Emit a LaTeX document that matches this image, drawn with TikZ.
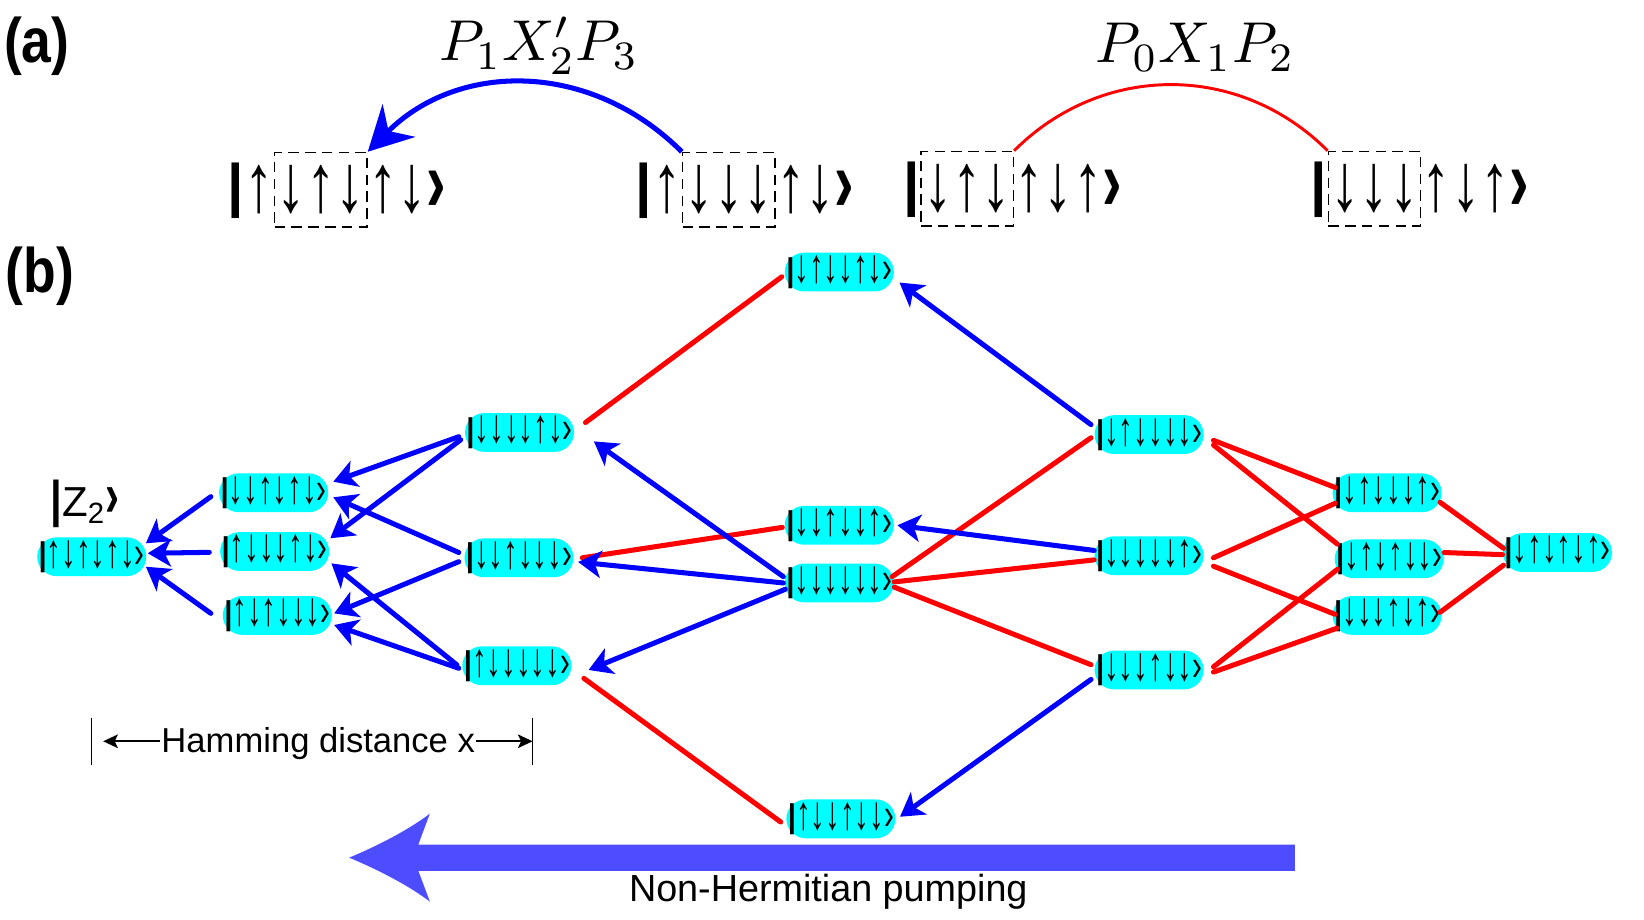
\documentclass[tikz,border=0pt]{standalone}
\usepackage{fontspec}
\setmainfont{Liberation Sans}
\usepackage{graphicx}
\usetikzlibrary{arrows.meta,calc}
\definecolor{pillc}{RGB}{0,255,255}
\definecolor{eblue}{RGB}{0,0,255}
\definecolor{ered}{RGB}{255,0,0}
\definecolor{pumpc}{RGB}{77,77,255}
\newcommand\kbar{\raisebox{0.1em}{\bfseries|}}
\newcommand\kend{\scalebox{1}[1.5]{›}}
\newcommand\kendb{\scalebox{1}[1.5]{\textbf{›}}}
\newcommand\ka[1]{\scalebox{1}[1.4]{#1}}
\newcommand\kn[1]{\scalebox{1}[1.62]{#1}}
\newcommand\kt[1]{\raisebox{0.05em}{\scalebox{1}[1.12]{\bfseries|}}\kn{#1}\kend}
\begin{document}
\begin{tikzpicture}[x=0.5pt,y=-0.5pt,
  state/.style={rectangle, rounded corners=9.25pt, fill=pillc, minimum width=52pt, minimum height=18.5pt,
    inner sep=0pt, font=\fontsize{14}{14}\selectfont},
  barrow/.style={draw=eblue, line width=2.4pt, line cap=round,
    -{Stealth[length=11pt,width=13pt,inset=3pt]}},
  rline/.style={draw=ered, line width=2.4pt, line cap=round},
  ket/.style={inner sep=0pt, font=\fontsize{28}{28}\selectfont},
  dbox/.style={ket, draw, dash pattern=on 5pt off 3pt, line width=0.75pt,
    inner xsep=1pt, minimum height=35.5pt},
  panel/.style={font=\bfseries\fontsize{30}{30}\selectfont, inner sep=0pt},
  mlabel/.style={inner sep=0pt},
  dimarrow/.style={line width=0.8pt, -{Stealth[length=7pt,width=6.5pt,inset=1.5pt]}}
]
\path[use as bounding box] (0,0) rectangle (1568,877);

% ---------------- (a) ----------------
\node[panel] (pa) at (35,44) {\scalebox{0.85}[1]{(a)}};
\node[panel] (pb) at (38,263) {\scalebox{0.85}[1]{(b)}};

\node[dbox] (k1m) at (306,181) {\ka{↓↑↓}};
\node[ket, anchor=base east] (k1l) at (k1m.base west) {\kbar\ka{↑}};
\node[ket, anchor=base west] (k1r) at (k1m.base east) {\ka{↑↓}\kendb};

\node[dbox] (k2m) at (695,181) {\ka{↓↓↓}};
\node[ket, anchor=base east] (k2l) at (k2m.base west) {\kbar\ka{↑}};
\node[ket, anchor=base west] (k2r) at (k2m.base east) {\ka{↑↓}\kendb};

\node[dbox] (k3m) at (922.5,180) {\ka{↓↑↓}};
\node[ket, anchor=base east] (k3l) at (k3m.base west) {\kbar};
\node[ket, anchor=base west] (k3r) at (k3m.base east) {\ka{↑↓↑}\kendb};

\node[dbox] (k4m) at (1311,180) {\ka{↓↓↓}};
\node[ket, anchor=base east] (k4l) at (k4m.base west) {\kbar};
\node[ket, anchor=base west] (k4r) at (k4m.base east) {\ka{↑↓↑}\kendb};

\draw[eblue, line width=2.4pt, -{Stealth[length=21pt,width=22pt,inset=7pt]}]
  (k2m.north west) to[out=135, in=45, looseness=1.05] (k1m.north east);
\draw[ered, line width=1.4pt]
  (k3m.north east) to[out=45, in=135, looseness=1.02] (k4m.north west);

\node[mlabel] (lab1) at (514,44) {\scalebox{2.75}{$P_1X_2'P_3$}};
\node[mlabel] (lab2) at (1140,45) {\scalebox{2.75}{$P_0X_1P_2$}};

% ---------------- (b) nodes ----------------
\node[font=\fontsize{20}{20}\selectfont, inner sep=0pt] (z2) at (81,481) {\scalebox{1}[1.2]{\bfseries|}Z\textsubscript{2}\kendb};

\node[state] (N0) at (87.5,531) {\kt{↑↓↑↓↑↓}};
\node[state] (A1) at (261,470) {\kt{↓↓↑↓↑↓}};
\node[state] (A2) at (262,526) {\kt{↑↓↓↓↑↓}};
\node[state] (A3) at (264.5,587) {\kt{↑↓↑↓↓↓}};
\node[state] (B1) at (495.5,412.5) {\kt{↓↓↓↓↑↓}};
\node[state] (B2) at (495,532) {\kt{↓↓↑↓↓↓}};
\node[state] (B3) at (493,635) {\kt{↑↓↓↓↓↓}};
\node[state] (C1) at (800.5,259.5) {\kt{↓↑↓↓↑↓}};
\node[state] (C2) at (800.5,501) {\kt{↓↓↑↓↓↑}};
\node[state] (C3) at (800.5,556) {\kt{↓↓↓↓↓↓}};
\node[state] (C4) at (802,781) {\kt{↑↓↓↑↓↓}};
\node[state] (D1) at (1096,414.5) {\kt{↓↑↓↓↓↓}};
\node[state] (D2) at (1096,530) {\kt{↓↓↓↓↓↑}};
\node[state] (D3) at (1096,639) {\kt{↓↓↓↑↓↓}};
\node[state] (E1) at (1323,470) {\kt{↓↑↓↓↓↑}};
\node[state] (E2) at (1325,533) {\kt{↓↑↓↑↓↓}};
\node[state] (E3) at (1323,587) {\kt{↓↓↓↑↓↑}};
\node[state] (F) at (1485.5,527) {\kt{↓↑↓↑↓↑}};

% ---------------- red links ----------------
\draw[rline] ($(B1.east)+(10.5,-9.5)$) -- ($(C1.west)+(-2.5,4.5)$);
\draw[rline] ($(B2.east)+(8,0)$) -- ($(C2.west)+(-2,2)$);
\draw[rline] ($(B3.east)+(11.5,12)$) -- ($(C4.west)+(-5,3)$);
\draw[rline] ($(C3.east)+(-2,-6)$) -- ($(D1.west)+(-3,3)$);
\draw[rline] ($(C3.east)+(0,-1)$) -- ($(D2.west)+(0,4)$);
\draw[rline] ($(C3.east)+(0,4)$) -- ($(D3.west)+(-3,-5)$);
\draw[rline] ($(D1.east)+(9,5.5)$) -- ($(E1.west)+(3,-5)$);
\draw[rline] ($(D1.east)+(9,10)$) -- ($(E2.west)+(3,-14)$);
\draw[rline] ($(D2.east)+(9,2)$) -- ($(E1.west)+(3,10)$);
\draw[rline] ($(D2.east)+(9,10)$) -- ($(E3.west)+(3,-1)$);
\draw[rline] ($(D3.east)+(9,-3)$) -- ($(E2.west)+(3,10)$);
\draw[rline] ($(D3.east)+(9,2)$) -- ($(E3.west)+(5,12)$);
\draw[rline] ($(E1.east)+(-2,9)$) -- ($(F.west)+(1,-4)$);
\draw[rline] ($(E2.east)+(0,-6)$) -- ($(F.west)+(0,2)$);
\draw[rline] ($(E3.east)+(-2,-3)$) -- ($(F.west)+(1,12)$);

% ---------------- blue arrows ----------------
\draw[barrow] ($(A1.west)+(-7.5,3.7)$) -- ($(N0.east)+(-0.8,-12.8)$);
\draw[barrow] ($(A2.west)+(-10,0.8)$) -- ($(N0.east)+(1,-3.3)$);
\draw[barrow] ($(A3.west)+(-11,-2)$) -- ($(N0.east)+(-0.8,9.5)$);
\draw[barrow] ($(B1.west)+(-5.5,4)$) -- ($(A1.east)+(4.5,-10.6)$);
\draw[barrow] ($(B1.west)+(-3.7,7)$) -- ($(A2.east)+(0.6,-12.6)$);
\draw[barrow] ($(B2.west)+(-5,-5)$) -- ($(A1.east)+(4.5,4.3)$);
\draw[barrow] ($(B2.west)+(-5,3.7)$) -- ($(A3.east)+(1.8,-2)$);
\draw[barrow] ($(B3.west)+(-4.8,-0.8)$) -- ($(A2.east)+(1.7,11.3)$);
\draw[barrow] ($(B3.west)+(-3,2.4)$) -- ($(A3.east)+(1.8,9.1)$);
\draw[barrow] ($(C3.west)+(-1,-6)$) -- ($(B1.east)+(18.5,8.5)$);
\draw[barrow] ($(C3.west)+(-1,0)$) -- ($(B2.east)+(4,4)$);
\draw[barrow] ($(C3.west)+(1,6)$) -- ($(B3.east)+(16,4)$);
\draw[barrow] ($(D1.west)+(-3,-9.5)$) -- ($(C1.east)+(5,10)$);
\draw[barrow] ($(D2.west)+(0,-5)$) -- ($(C2.east)+(3,0)$);
\draw[barrow] ($(D3.west)+(-3,9)$) -- ($(C4.east)+(4,-2)$);

% ---------------- Hamming distance ----------------
\node[font=\fontsize{16.5}{16.5}\selectfont, inner sep=0.5pt, anchor=base] (ham) at (303.5,718) {Hamming distance x};
\coordinate (hl) at (87.4,707);
\coordinate (hr) at (508,707);
\draw[line width=0.8pt] ($(hl)+(0,-22)$) -- ($(hl)+(0,23)$);
\draw[line width=0.8pt] ($(hr)+(0,-22)$) -- ($(hr)+(0,23)$);
\draw[dimarrow] (ham.west |- hl) -- ($(hl)+(11,0)$);
\draw[dimarrow] (ham.east |- hr) -- (hr);

% ---------------- pumping arrow ----------------
\coordinate (pumpL) at (333,818);
\coordinate (pumpR) at (1235,818);
\fill[pumpc] (pumpL) .. controls (362,806) and (392,790) .. (410,776)
  -- (399,805.5) -- (pumpR |- 0,805.5) -- (pumpR |- 0,830.5) -- (399,830.5)
  -- (410,860) .. controls (392,846) and (362,830) .. cycle;
\node[font=\fontsize{18}{18}\selectfont, inner sep=0pt, anchor=base] (pumptext) at (790,860) {Non-Hermitian pumping};
\end{tikzpicture}
\end{document}
